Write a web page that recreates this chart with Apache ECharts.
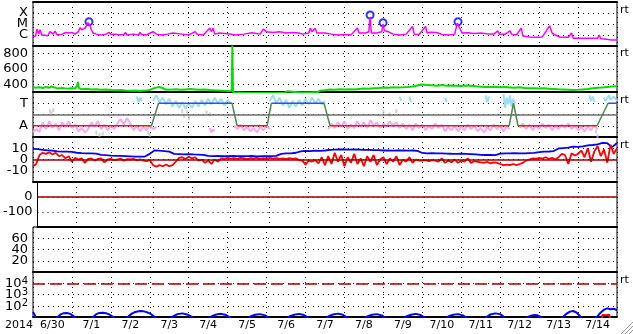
<!DOCTYPE html>
<html><head><meta charset="utf-8">
<script src="https://cdn.jsdelivr.net/npm/echarts@6/dist/echarts.min.js"></script>
<style>html,body{margin:0;padding:0;background:#fff}#c{width:633px;height:334px}</style>
</head><body><div id="c"></div>
<script>
// ---- categories / tick labels ----
const yearLabel = '2014';
const dayLabels = ['6/30','7/1','7/2','7/3','7/4','7/5','7/6','7/7','7/8','7/9','7/10','7/11','7/12','7/13','7/14'];
const xrayClassTicks = {'-6':'C','-5':'M','-4':'X'};
const sectorTicks = {'1':'T','-1':'A'};
const speedTicks = [400,600,800];
const bzTicks = [-10,0,10];
const dstTicks = [-100,0];
const kpTicks = [20,40,60];
const electronTickExps = [2,3,4];
const sideTag = 'rt';

// ---- series values (time in hours from 6/30 00:00) ----
const xrayFlux = [[0,6.7e-7],[1.5,8e-7],[2.5,3.4e-6],[3.5,1.2e-6],[4.3,3.0e-6],[5.5,9e-7],[7,1.0e-6],[9,8.3e-7],[10.5,2.0e-6],[11.5,2.6e-6],[12.5,1.2e-6],[13.6,2.2e-6],[15,1.0e-6],[18,1.2e-6],[20,1.7e-6],[22,1.5e-6],[24,1.7e-6],[26,1.2e-6],[28,2.0e-6],[29,4.6e-6],[30,3.0e-6],[31,3.7e-6],[32,4.0e-6],[33,6e-6],[34,1.3e-5],[35,8e-6],[36,3.0e-6],[37,1.5e-6],[39,1.2e-6],[42,1.0e-6],[45,1.2e-6],[47,1.7e-6],[48,1.1e-6],[51,1.2e-6],[52,1.7e-6],[53,1.0e-6],[56,1.1e-6],[57,1.7e-6],[58,1.0e-6],[62,1.2e-6],[65,1.0e-6],[66,1.7e-6],[67,1.1e-6],[70,1.0e-6],[74,2.0e-6],[75,2.2e-6],[76,1.2e-6],[80,1.0e-6],[83,1.2e-6],[86,1.5e-6],[87,1.0e-6],[92,1.2e-6],[96,1.0e-6],[100,2.0e-6],[101,1.2e-6],[105,1.0e-6],[109,4.3e-6],[110,2e-6],[111,4.3e-6],[112,1.2e-6],[115,1.5e-6],[120,1.3e-6],[125,1.0e-6],[130,1.2e-6],[135,1.6e-6],[136,1.1e-6],[140,1.2e-6],[142,3.4e-6],[144,2.0e-6],[148,1.7e-6],[152,2.0e-6],[156,1.5e-6],[160,1.7e-6],[164,1.5e-6],[166,1.2e-6],[170,1.5e-6],[171,4.3e-6],[172,2e-6],[174,4e-6],[175,1.5e-6],[180,1.5e-6],[184,1.2e-6],[188,1.0e-6],[192,1.1e-6],[196,1.0e-6],[200,4.3e-6],[201,1.5e-6],[205,1.5e-6],[207,2e-6],[207.8,4.5e-5],[208.6,1.5e-6],[212,1.5e-6],[215,2e-6],[215.8,1.0e-5],[216.6,2.4e-6],[219,2.0e-6],[222,1.2e-6],[226,1.0e-6],[230,1.2e-6],[234,5.9e-6],[235,1.2e-6],[238,1.1e-6],[242,5.9e-6],[243,1.5e-6],[245,1.8e-6],[249,1.7e-6],[252,1.1e-6],[256,1.0e-6],[260,1.2e-6],[261.5,1.2e-5],[263,4.3e-6],[264.5,1.5e-6],[268,1.6e-6],[272,1.4e-6],[276,1.5e-6],[280,1.3e-6],[284,1.2e-6],[286.5,2.4e-6],[287.5,1.2e-6],[291,1.2e-6],[294,2.4e-6],[295,1.2e-6],[298,1.0e-6],[301,4.3e-6],[302,8e-7],[306,6.7e-7],[310,6.3e-7],[314,6.7e-7],[318.5,6.9e-6],[320,1.5e-6],[322,1.0e-6],[325,6.3e-7],[330,6.3e-7],[332,1.5e-6],[333,5.1e-7],[338,5.1e-7],[343,5.1e-7],[348,5e-7],[349,1.0e-6],[350,4.5e-7],[354,4.2e-7],[356,3.6e-7],[360,3.6e-7]];
const flarePeaks = [[34.5,1.6e-5],[207.8,6.6e-5],[215.8,1.3e-5],[262,1.6e-5]];

const windSpeed = [[0,361],[2,356],[4,362],[6,352],[8,365],[10,355],[11.5,372],[12.5,350],[15,347],[18,352],[21,344],[24,350],[26,346],[27.2,380],[27.7,432],[28.3,350],[30,336],[33,341],[36,333],[39,336],[42,330],[45,334],[48,326],[51,322],[54,327],[57,320],[60,317],[63,321],[66,314],[69,318],[72,326],[74,345],[76,357],[78,366],[80,349],[82,330],[85,331],[88,336],[91,330],[94,334],[97,338],[100,334],[103,330],[106,333],[109,327],[112,322],[115,318],[118,315],[121,313],[122.5,316],[122.9,905],[123.3,300],[125,292],[126,310],[127,292],[135,288],[145,286],[155,290],[156.5,310],[157.5,290],[165,292],[175,296],[176,308],[177,317],[180,322],[183,334],[186,329],[189,336],[192,332],[195,337],[198,334],[201,340],[204,345],[207,342],[210,349],[213,353],[216,358],[219,354],[222,362],[225,358],[228,361],[231,366],[234,372],[237,385],[240,398],[243,392],[246,388],[249,383],[252,390],[255,380],[258,386],[261,383],[264,377],[267,385],[270,380],[273,374],[276,370],[279,366],[282,364],[285,368],[288,361],[291,364],[294,360],[297,356],[300,362],[303,352],[306,348],[309,350],[312,345],[315,348],[318,342],[321,340],[324,336],[327,333],[330,330],[333,327],[336,330],[339,334],[342,338],[345,350],[348,356],[351,360],[354,366],[357,372],[360,376]];

// sector: +1 toward, -1 away
const sectorLine = [[0,-1],[73,-1],[77.4,1],[122.7,1],[125.8,-1],[144.3,-1],[146.9,1],[179.4,1],[183.1,-1],[293.5,-1],[296.2,1],[299,-1],[347.7,-1],[354.5,1],[360,1]];
const phiAway = [[0,-1.6],[2,-1.3],[4,-1.55],[6,-0.7],[8,-1.3],[10,-0.6],[12,-1.2],[14,-0.8],[16,-1.4],[18,-0.7],[20,-1.1],[22,-0.6],[24,-1.2],[26,-0.9],[28,-1.5],[30,-1.2],[32,-1.6],[34,-1.3],[36,-0.7],[38,-1.1],[40,-0.6],[42,-1.3],[44,-0.9],[46,-1.4],[48,-1.0],[50,-1.3],[52,-0.8],[54,-0.4],[56,-0.9],[58,-0.3],[60,-0.8],[62,-1.4],[64,-1.0],[66,-1.5],[68,-1.1],[70,-1.4],[72,-1.0],[74,-1.3],[76,-1.1],[77,null],
[109,-1.2],[110,-1.6],[111,-1.3],[112,-1.5],[113,null],
[124,-1.0],[126,-1.3],[128,-0.9],[130,-1.4],[132,-1.1],[134,-1.5],[136,-1.2],[138,-1.6],[140,-1.1],[142,-1.4],[144,-1.0],[146,-1.3],[147,null],
[182,-1.3],[184,-0.8],[186,-1.2],[188,-0.7],[190,-1.1],[192,-0.6],[194,-1.3],[196,-0.9],[198,-1.2],[200,-0.6],[202,-1.1],[204,-0.7],[206,-1.2],[208,-0.5],[210,-1.0],[212,-0.7],[214,-1.2],[216,-0.8],[218,-1.1],[220,-0.6],[222,-1.0],[224,-0.7],[226,-1.2],[228,-0.8],[230,-1.3],[232,-0.9],[234,-1.4],[236,-0.8],[238,-1.2],[240,-0.9],[242,-1.4],[244,-1.0],[246,-1.3],[248,-0.8],[250,-1.2],[252,-0.9],[254,-1.5],[256,-1.1],[258,-1.4],[260,-1.0],[262,-1.5],[264,-1.1],[266,-1.4],[268,-0.9],[270,-1.3],[272,-1.0],[274,-1.5],[276,-1.2],[278,-1.6],[280,-1.1],[282,-1.4],[284,-0.9],[286,-1.3],[288,-1.0],[290,-1.5],[292,-1.1],[294,-1.3],[295,null],
[300,-1.2],[302,-0.8],[304,-1.3],[306,-0.9],[308,-1.4],[310,-1.0],[312,-1.3],[314,-0.8],[316,-1.2],[318,-0.9],[320,-1.4],[322,-1.0],[324,-1.3],[326,-0.9],[328,-1.2],[330,-0.8],[332,-1.3],[334,-1.0],[336,-1.4],[338,-1.1],[340,-1.5],[342,-1.1],[344,-1.4],[346,-1.0],[348,-1.3]];
const phiToward = [[64,1.6],[65,1.1],[66,1.5],[67,1.2],[68,null],
[74,1.2],[76,1.7],[78,1.1],[80,1.5],[82,0.9],[84,1.4],[86,0.7],[88,1.2],[90,0.6],[92,1.1],[94,0.5],[96,1.0],[98,0.6],[100,1.2],[102,0.7],[104,1.3],[106,0.8],[108,1.4],[110,0.9],[112,1.5],[114,1.0],[116,1.4],[118,0.8],[120,1.3],[122,1.0],[123,null],
[146,1.2],[148,1.7],[150,1.0],[152,1.5],[154,0.8],[156,1.3],[158,0.6],[160,1.2],[162,0.7],[164,1.3],[166,0.8],[168,1.4],[170,0.9],[172,1.5],[174,1.0],[176,1.4],[178,0.9],[180,1.2],[181,null],
[226,1.6],[227,1.2],[228,null],[232,1.6],[233,1.1],[234,null],[254,1.5],[255,1.1],[256,null],[279,1.7],[280,1.1],[281,1.6],[282,null],
[290,1.8],[291,0.6],[292,1.5],[293,0.9],[294,1.7],[295,0.7],[296,1.4],[297,1.0],[298,null],
[343,1.7],[344,1.2],[345,1.6],[346,1.1],[347,null],[352,1.5],[353,1.2],[355,1.7],[356,1.3],[358,1.6],[360,1.2]];
const phiOther = [[10.5,0.3],[11.5,0.1],[12.5,0.4],[39,-1.6],[41,-1.8],[43,-1.7],[70,-1.2],[71,-1.6],[72,-1.8],[92,0.3],[93,-0.1],[95,0.2],[96,-0.3],[107,0.2],[109,0.0],[216,0.2],[220,0.0],[224,0.3],[347,-1.5],[348,-1.9]];

const btStepH = 3;
const btTotal = [9.5,9.3,8.5,8.2,7.8,7.2,7,7,6.8,6,5.6,5.5,5.4,5.2,4.2,3.8,3.5,3.3,3.2,3,2.8,2.6,2.5,2.6,5,8.2,7.8,7.5,7,5,4.8,4.6,4.8,4.5,4.4,4.2,3.2,3,3.1,2.9,3,3.2,3,2.9,3,3.1,2.8,3,2.9,3,3.3,5,5.5,5.5,6,7.3,7.6,7.5,7.8,7.6,8,8.6,8.8,9,8.9,8.7,9,8.8,8.5,8.6,8.3,8.4,8,8.2,7.9,8,8.1,7.8,8,7.6,5.8,5.5,5.6,5.4,5.5,5.3,5.1,5,5.2,5,4.8,4.6,4.2,4,4.1,3.9,5.3,5.5,5.4,5.6,5.5,5.4,5.6,5.8,6.5,7,7.1,7.5,9.8,10.2,10.5,11.4,11.3,11.6,12.5,12.9,13.5,14.7,14.5,11,14.7];
const bzStepH = 2;
const bzValues = [-6,-4,4,6,5,6.5,4.5,6,3,4,1,3,-2,1.5,0,1,-3,0.5,1,-1,0.5,1,-2.5,0,0.5,-0.5,0,0.8,-1,0.3,0,0.6,-0.8,0.2,-1,-1.5,-0.5,-5,-6.5,-5,-6,-4.5,-6,-5,-2,1.5,2,0.5,2.5,1,2,-1,0,-3,-1,-4,0,-2,1,0.5,1.5,0.8,1.2,0.5,1.5,1,0.3,1.2,0.8,1.5,0.5,1,0.6,1.4,0.8,1.2,0.5,1,0.3,1.3,0.6,1,-0.5,-1,-4.5,-1,-2,-0.5,-3.5,2,-5,3,-4,6,-2,4,-6,2,-3,5,-4,1,-6,3,-2,4,-5,0,2,-4,1,-2,3,-5,0,-2,2,-3,0,-1,-1,-0.5,-1.5,-0.5,-1,-2,1,-3,-1,-2.5,0,-3,-1,-2,1,-3,-1.5,-2,-2.5,-3,-2,-3.5,-2.5,-3,-4,-5,-4.5,-5,-4,-5,-4,-3,-1,0,1,0.5,1.5,0.8,2,0.5,1.5,0,2,5,4,-4,5.5,3.5,5,8,2,10,-2,7,12,3,9,-3,13,5,10];

const electronFlux = [[0,28],[1,16],[2,6],[14,6],[15.5,11],[17,17],[19,22],[21,23],[23,19],[25,12],[26.5,6],[36,6],[37.5,11],[39,18],[41,23],[43,24],[45,22],[47,17],[49,11],[50.5,6],[57,6],[59,12],[61,20],[63,28],[65,33],[67,34],[69,30],[71,24],[73,17],[75,10],[76.5,6],[84,6],[86,11],[89,18],[92,21],[95,17],[98,10],[99.5,6],[108,6],[110,11],[113,17],[116,19],[119,15],[121,10],[122.5,6],[132,6],[134,11],[137,16],[140,18],[143,14],[145,9],[146.5,6],[156,6],[158,11],[161,16],[164,19],[167,15],[169,10],[170.5,6],[180,6],[182,11],[185,17],[188,20],[191,16],[193,10],[194.5,6],[204,6],[206,11],[209,16],[212,18],[215,14],[217,9],[218.5,6],[228,6],[230,11],[233,16],[236,19],[239,15],[241,10],[242.5,6],[254,6],[256,11],[259,16],[262,18],[265,14],[267,9],[268.5,6],[278,6],[280,11],[282,17],[285,21],[288,18],[290,11],[291.5,6],[303,6],[305,10],[307,13],[309,15],[311,14],[313,10],[314,6],[325,6],[327,11],[329,20],[331,30],[333,34],[335,25],[337,13],[338.5,6],[346,6],[348,12],[350,25],[352,45],[354,59],[356,48],[358,55],[360,40]];
const protonFlux = [[350.5,5],[351,15],[353,14],[355,16],[356,15],[356.5,5]];

// ---- split the sector trace into away / toward / transition pieces ----
const sectorAway = [], sectorToward = [], sectorTrans = [];
for (let i = 0; i < sectorLine.length - 1; i++) {
  const a = sectorLine[i], b = sectorLine[i+1];
  const dst = (a[1] === -1 && b[1] === -1) ? sectorAway : (a[1] === 1 && b[1] === 1) ? sectorToward : sectorTrans;
  dst.push(a, b, [b[0], null]);
}

// ---- build option ----
const FONT = 'DejaVu Sans';
const panels = [
  {top:2, height:44}, {top:46, height:46}, {top:92, height:45}, {top:137, height:45},
  {top:182, height:45}, {top:227, height:45}, {top:272, height:45}
];
const dotted = {color:'#000', type:[1,4], width:1};
const grid = panels.map(p => ({left:33, width:584, top:p.top, height:p.height, show:true, borderColor:'#000', borderWidth:1}));
const xAxis = panels.map((p,i) => ({
  type:'value', gridIndex:i, min:0, max:360, interval:24, position:'bottom',
  axisLabel:{show:false}, axisTick:{show:false},
  axisLine:{show:true, onZero:false, lineStyle:{color:'#000', width:2}},
  splitLine:{show:true, lineStyle:dotted}
}));
xAxis.push({
  type:'category', gridIndex:6, data:dayLabels, position:'bottom', offset:0, boundaryGap:true,
  axisLine:{show:false}, axisTick:{show:false}, splitLine:{show:false},
  axisLabel:{show:true, color:'#000', fontFamily:FONT, fontSize:11, margin:3, interval:0}
});
xAxis.push({
  type:'value', gridIndex:0, min:0, max:360, position:'top', offset:0,
  axisLabel:{show:false}, axisTick:{show:false}, splitLine:{show:false},
  axisLine:{show:true, onZero:false, lineStyle:{color:'#000', width:2}}
});
const baseY = (extra) => Object.assign({
  axisLine:{show:false}, axisTick:{show:false},
  splitLine:{show:true, lineStyle:dotted},
  axisLabel:{color:'#000', fontFamily:FONT, fontSize:13, margin:5}
}, extra);
const showOnly = (list) => (v) => list.indexOf(v) >= 0 ? String(v) : '';
const yAxis = [
  baseY({type:'log', logBase:10, gridIndex:0, min:1e-7, max:1e-3,
    axisLabel:{color:'#000', fontFamily:FONT, fontSize:13, margin:5,
      formatter:(v)=> xrayClassTicks[String(Math.round(Math.log10(v)))] || ''}}),
  baseY({type:'value', gridIndex:1, min:300, max:900, interval:100,
    axisTick:{show:false, customValues:speedTicks},
    axisLabel:{color:'#000', fontFamily:FONT, fontSize:13, margin:5, customValues:speedTicks}}),
  baseY({type:'value', gridIndex:2, min:-2, max:2, interval:1,
    axisLabel:{color:'#000', fontFamily:FONT, fontSize:13, margin:5, formatter:(v)=> sectorTicks[String(v)] || ''}}),
  baseY({type:'value', gridIndex:3, min:-20, max:20, interval:10,
    axisLabel:{color:'#000', fontFamily:FONT, fontSize:13, margin:5, formatter:showOnly(bzTicks)}}),
  baseY({type:'value', gridIndex:4, min:-200, max:100, interval:100,
    axisLabel:{color:'#000', fontFamily:FONT, fontSize:13, margin:5, formatter:showOnly(dstTicks)}}),
  baseY({type:'value', gridIndex:5, min:0, max:80, interval:20,
    axisLabel:{color:'#000', fontFamily:FONT, fontSize:13, margin:5, formatter:showOnly(kpTicks)}}),
  baseY({type:'log', logBase:10, gridIndex:6, min:10, max:1e5,
    axisLabel:{color:'#000', fontFamily:FONT, margin:5,
      formatter:(v)=>{ const e = Math.round(Math.log10(v)); return electronTickExps.indexOf(e)>=0 ? '{b|10}{s|'+e+'}' : ''; },
      rich:{ b:{fontFamily:FONT, fontSize:13, lineHeight:14, verticalAlign:'bottom', color:'#000'},
             s:{fontFamily:FONT, fontSize:10, lineHeight:10, padding:[0,0,6,0], verticalAlign:'top', color:'#000'} }}})
];
const refLine = (xi, yVal, color, type, width) => ({
  type:'line', xAxisIndex:xi, yAxisIndex:xi, data:[], silent:true,
  markLine:{silent:true, symbol:'none', label:{show:false}, animation:false,
    lineStyle:{color:color, type:type, width:width}, data:[{yAxis:yVal}]}
});
const line = (xi, data, color, width, extra) => Object.assign({
  type:'line', xAxisIndex:xi, yAxisIndex:xi, data:data, symbol:'none', showSymbol:false,
  connectNulls:false, lineStyle:{color:color, width:width}, itemStyle:{color:color}, silent:true
}, extra||{});

const series = [
  line(0, xrayFlux, '#ff00ff', 1.5),
  {type:'scatter', xAxisIndex:0, yAxisIndex:0, data:flarePeaks, symbol:'emptyCircle', symbolSize:7,
   itemStyle:{color:'#0000ff', borderColor:'#0000ff', borderWidth:1.5}, silent:true},
  line(1, windSpeed, '#00e000', 2),
  line(2, phiAway, '#f4aaf0', 2),
  line(2, phiToward, '#9cdcf4', 2),
  {type:'scatter', xAxisIndex:2, yAxisIndex:2, data:phiOther, symbol:'rect', symbolSize:[2,4], itemStyle:{color:'#c8c8c8'}, silent:true},
  refLine(2, 0, '#707070', 'solid', 1.5),
  line(2, sectorAway, '#e02020', 1.5),
  line(2, sectorToward, '#3050e0', 1.5),
  line(2, sectorTrans, '#4a8a4a', 1.5),
  refLine(3, 0, '#a00000', 'solid', 1.5),
  line(3, btTotal.map((v,i)=>[i*btStepH, v]), '#0000ff', 1.8),
  line(3, bzValues.map((v,i)=>[i*bzStepH, v]), '#ff0000', 1.8),
  refLine(4, 0, '#a00000', 'solid', 1.5),
  refLine(6, 1e4, '#b00000', [12,5], 1.5),
  line(6, electronFlux, '#0000ff', 2),
  line(6, protonFlux, '#ff0000', 2)
];

const tagStyle = {text:sideTag, font:'11px "DejaVu Sans"', fill:'#000'};
const option = {
  animation:false,
  backgroundColor:'#fff',
  textStyle:{fontFamily:FONT},
  grid, xAxis, yAxis, series,
  graphic:[
    {type:'text', left:620, top:5, style:tagStyle},
    {type:'text', left:620, top:48, style:tagStyle},
    {type:'text', left:620, top:95, style:tagStyle},
    {type:'text', left:620, top:140, style:tagStyle},
    {type:'text', left:620, top:275, style:tagStyle},
    {type:'text', left:5, top:320, style:{text:yearLabel, font:'11px "DejaVu Sans"', fill:'#000'}},
    {type:'line', shape:{x1:633, y1:322, x2:621, y2:334}, style:{stroke:'#999', lineWidth:1}},
    {type:'line', shape:{x1:633, y1:326, x2:625, y2:334}, style:{stroke:'#999', lineWidth:1}},
    {type:'line', shape:{x1:633, y1:330, x2:629, y2:334}, style:{stroke:'#999', lineWidth:1}}
  ]
};
const chart = echarts.init(document.getElementById('c'), null, {renderer:'canvas'});
chart.setOption(option);
</script></body></html>
